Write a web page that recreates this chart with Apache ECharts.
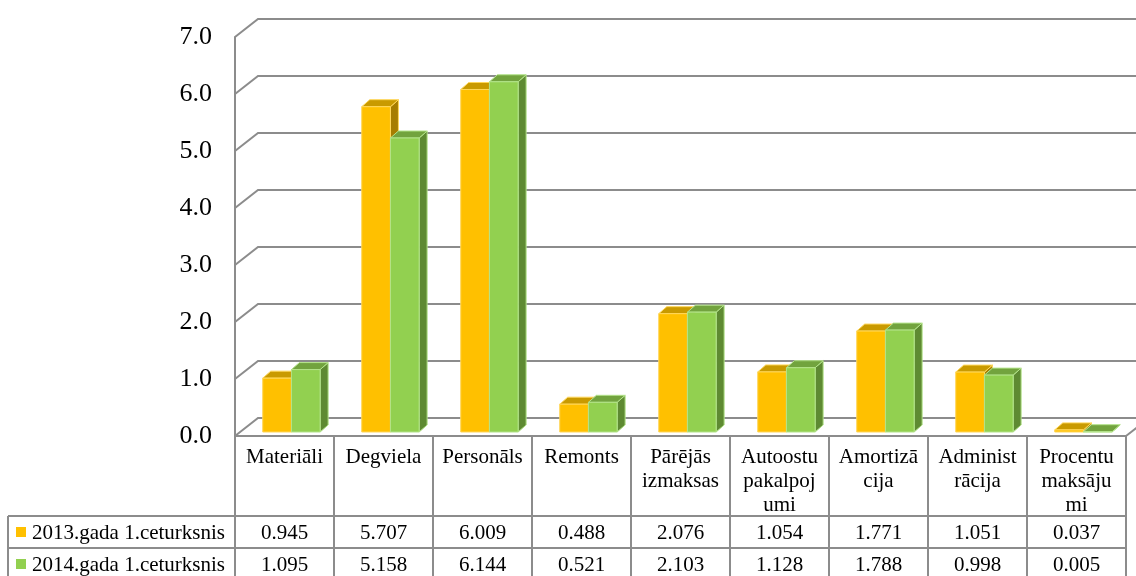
<!DOCTYPE html>
<html><head><meta charset="utf-8">
<script src="https://cdn.jsdelivr.net/npm/echarts@6/dist/echarts.min.js"></script>
<style>html,body{margin:0;padding:0;background:#fff}#c{width:1136px;height:576px}</style>
</head><body><div id="c"></div>
<script>
// ---- data ----
const categories = ['Materiāli', 'Degviela', 'Personāls', 'Remonts', 'Pārējās\nizmaksas', 'Autoostu\npakalpoj\numi', 'Amortizā\ncija', 'Administ\nrācija', 'Procentu\nmaksāju\nmi'];
const series2013 = [0.945, 5.707, 6.009, 0.488, 2.076, 1.054, 1.771, 1.051, 0.037];
const series2014 = [1.095, 5.158, 6.144, 0.521, 2.103, 1.128, 1.788, 0.998, 0.005];
const seriesNames = ['2013.gada 1.ceturksnis', '2014.gada 1.ceturksnis'];
const yTicks = [0, 1, 2, 3, 4, 5, 6, 7];

// ---- style / layout ----
const FONT = '"Liberation Serif","Times New Roman",serif';
const WALL_DX = 23, WALL_DY = -18;
const BAR_DX = 8, BAR_DY = -7, BAR_SINK = 4;
const LINE = '#8c8c8c';
const HEADER_H = 80, ROW_H = 32, LEGEND_LEFT = 8;
const faces = [
  {front: '#FFC000', top: '#C99A00', side: '#A67D00', edge: '#FFD75A'},
  {front: '#92D050', top: '#72A33E', side: '#5E8A32', edge: '#B3E38A'}
];

function wallRender(params, api) {
  const cs = params.coordSys;
  const v = api.value(1);
  const y = api.coord([0, v])[1];
  const x0 = cs.x, x1 = cs.x + cs.width;
  const ch = [{
    type: 'polyline',
    shape: {points: [[x0, y], [x0 + WALL_DX, y + WALL_DY], [x1 + WALL_DX + 40, y + WALL_DY]]},
    style: {stroke: LINE, lineWidth: 2, fill: null}
  }];
  if (v === 0) {
    ch.push({type: 'line', shape: {x1: x1, y1: y, x2: x1 + WALL_DX, y2: y + WALL_DY},
      style: {stroke: LINE, lineWidth: 2}});
  }
  return {type: 'group', children: ch};
}

function barRender(k) {
  return function (params, api) {
    const i = api.value(0), v = api.value(1);
    const band = api.size([1, 0])[0];
    const c = api.coord([i, 0])[0];
    const base = api.coord([i, 0])[1] - BAR_SINK;
    const top = api.coord([i, v])[1] - BAR_SINK;
    const w = band * 0.29;
    const x = c - band * 0.22 + k * w;
    const f = faces[k];
    return {type: 'group', children: [
      {type: 'polygon', shape: {points: [[x + w, top], [x + w + BAR_DX, top + BAR_DY], [x + w + BAR_DX, base + BAR_DY], [x + w, base]]},
        style: {fill: f.side, stroke: f.edge, lineWidth: 1}},
      {type: 'polygon', shape: {points: [[x, top], [x + BAR_DX, top + BAR_DY], [x + w + BAR_DX, top + BAR_DY], [x + w, top]]},
        style: {fill: f.top, stroke: f.edge, lineWidth: 1}},
      {type: 'rect', shape: {x: x, y: top, width: w, height: base - top},
        style: {fill: f.front, stroke: f.edge, lineWidth: 1}}
    ]};
  };
}

function tableRender(params, api) {
  const i = api.value(0);
  const vals = [api.value(1), api.value(2)];
  const band = api.size([1, 0])[0];
  const c = api.coord([i, 0])[0];
  const y0 = api.coord([i, 0])[1];
  const left = c - band / 2, right = c + band / 2;
  const hb = y0 + HEADER_H;
  const ch = [];
  for (let r = 0; r < 3; r++) {
    const y = hb + r * ROW_H;
    ch.push({type: 'line', shape: {x1: (i === 0 ? LEGEND_LEFT : left), y1: y, x2: right, y2: y},
      style: {stroke: LINE, lineWidth: 2}});
  }
  for (let r = 0; r < 2; r++) {
    ch.push({type: 'text', style: {text: vals[r].toFixed(3), x: c, y: hb + r * ROW_H + ROW_H / 2 + 1,
      align: 'center', verticalAlign: 'middle', fontSize: 21, fontFamily: FONT, fill: '#000'}});
  }
  if (i === 0) {
    ch.push({type: 'line', shape: {x1: LEGEND_LEFT, y1: hb, x2: LEGEND_LEFT, y2: hb + 2 * ROW_H},
      style: {stroke: LINE, lineWidth: 2}});
    for (let r = 0; r < 2; r++) {
      const cy = hb + r * ROW_H + ROW_H / 2;
      ch.push({type: 'rect', shape: {x: LEGEND_LEFT + 8, y: cy - 5, width: 10, height: 10},
        style: {fill: faces[r].front}});
      ch.push({type: 'text', style: {text: seriesNames[r], x: LEGEND_LEFT + 24, y: cy + 1,
        align: 'left', verticalAlign: 'middle', fontSize: 21, fontFamily: FONT, fill: '#000'}});
    }
  }
  return {type: 'group', children: ch};
}

const chart = echarts.init(document.getElementById('c'), null, {renderer: 'canvas'});
chart.setOption({
  animation: false,
  backgroundColor: '#fff',
  grid: {left: 235, top: 37, width: 891, height: 399},
  xAxis: {
    type: 'category', data: categories,
    axisLine: {show: true, lineStyle: {color: LINE, width: 2}},
    axisTick: {show: true, interval: 0, length: 145, lineStyle: {color: LINE, width: 2}},
    axisLabel: {interval: 0, margin: 9, fontSize: 21, lineHeight: 24, fontFamily: FONT, color: '#000'},
    splitLine: {show: false}
  },
  yAxis: {
    type: 'value', min: 0, max: 7, interval: 1,
    axisLine: {show: true, lineStyle: {color: LINE, width: 2}},
    axisTick: {show: false},
    axisLabel: {margin: 23, fontSize: 26, fontFamily: FONT, color: '#000', formatter: v => v.toFixed(1)},
    splitLine: {show: false}
  },
  series: [
    {type: 'custom', name: 'wall', z: 1, clip: false, renderItem: wallRender,
      data: yTicks.map(v => [0, v]), silent: true},
    {type: 'custom', name: seriesNames[0], z: 2, clip: false, renderItem: barRender(0),
      data: series2013.map((v, i) => [i, v])},
    {type: 'custom', name: seriesNames[1], z: 3, clip: false, renderItem: barRender(1),
      data: series2014.map((v, i) => [i, v])},
    {type: 'custom', name: 'table', z: 4, clip: false, renderItem: tableRender,
      data: categories.map((c, i) => [i, series2013[i], series2014[i]]), silent: true}
  ]
});
</script></body></html>
